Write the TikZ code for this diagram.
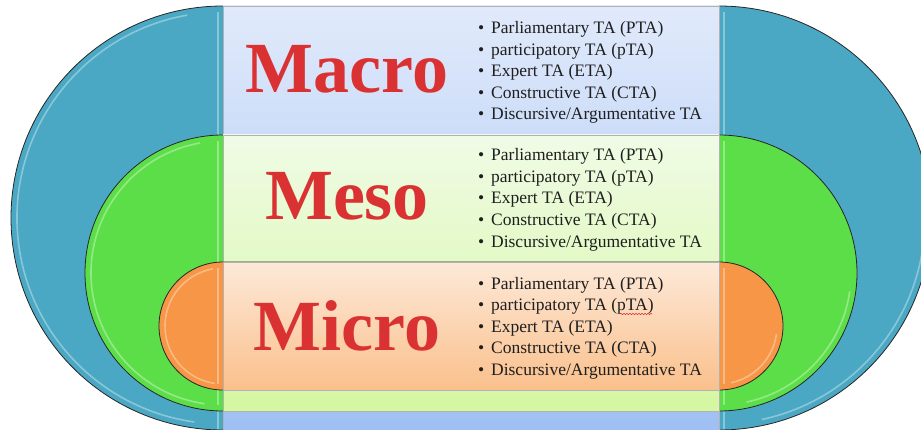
\documentclass[tikz,border=0pt]{standalone}
\usepackage{fontspec}
\setmainfont{Liberation Serif}
\usetikzlibrary{shapes.misc,decorations.pathmorphing}

\definecolor{ringblue}{RGB}{75,168,196}
\definecolor{ringgreen}{RGB}{92,222,72}
\definecolor{ringorange}{RGB}{247,150,70}
\definecolor{levelred}{RGB}{218,50,50}

\newcommand{\talist}{{Parliamentary TA (PTA)},{participatory TA (pTA)},{Expert TA (ETA)},{Constructive TA (CTA)},{Discursive/Argumentative TA}}

\begin{document}
\begin{tikzpicture}[x=1pt,y=1pt,
    ring/.style={rounded rectangle,draw=black!85,line width=0.8pt,inner sep=0pt},
    band/.style={rectangle,inner sep=0pt,minimum width=496pt,draw=black!30,line width=0.5pt},
    gloss/.style={white,opacity=0.35,line width=1.6pt},
    level/.style={font=\fontsize{72}{72}\selectfont\bfseries,text=levelred,anchor=base,inner sep=0pt},
    item/.style={font=\fontsize{17.5}{21}\selectfont,anchor=base west,inner sep=0pt,text=black!88}]

    \useasboundingbox (0,0) rectangle (921,429);

    % outer ring: macro
    \node[ring,fill=ringblue,minimum width=920pt,minimum height=424pt] (macroring) at (471,211) {};
    \draw[gloss] (223,211) ++(100:206) arc[start angle=100,end angle=262,radius=206];
    \draw[gloss] (719,211) ++(-78:206) arc[start angle=-78,end angle=-8,radius=206];
    \draw[gloss] (218,417) -- (218,0);
    \draw[gloss] (724,417) -- (724,0);
    \node[band,minimum height=428pt,top color={rgb,255:red,225;green,234;blue,251},bottom color={rgb,255:red,158;green,191;blue,243}] (macroband) at (471,209) {};

    % middle ring: meso
    \node[ring,fill=ringgreen,minimum width=772pt,minimum height=276pt] (mesoring) at (471,156) {};
    \draw[gloss] (223,156) ++(100:132) arc[start angle=100,end angle=262,radius=132];
    \draw[gloss] (719,156) ++(-78:132) arc[start angle=-78,end angle=-8,radius=132];
    \draw[gloss] (218,288) -- (218,24);
    \draw[gloss] (724,288) -- (724,24);
    \node[band,minimum height=276pt,top color={rgb,255:red,240;green,251;blue,230},bottom color={rgb,255:red,212;green,247;blue,160}] (mesoband) at (471,156) {};

    % inner ring: micro
    \node[ring,fill=ringorange,minimum width=624pt,minimum height=128pt] (microring) at (471,103) {};
    \draw[gloss] (223,103) ++(100:58) arc[start angle=100,end angle=262,radius=58];
    \draw[gloss] (719,103) ++(-78:58) arc[start angle=-78,end angle=-8,radius=58];
    \draw[gloss] (218,161) -- (218,45);
    \draw[gloss] (724,161) -- (724,45);
    \node[band,minimum height=128pt,top color={rgb,255:red,253;green,233;blue,216},bottom color={rgb,255:red,250;green,192;blue,140}] (microband) at (471,103) {};

    % level names
    \node[level] (macro) at (347,336) {Macro};
    \node[level] (meso) at (347,209) {Meso};
    \node[level] (micro) at (347,79) {Micro};

    % TA lists
    \foreach \lvl/\ybase in {macro/395,meso/268,micro/140}
        \foreach \t [count=\i] in \talist
            \node[item] (\lvl-\i) at (478,\ybase-21.5*\i+21.5) {\makebox[13pt][l]{\textbullet}\t};

    \draw[levelred,line width=0.5pt,decorate,decoration={snake,amplitude=0.7pt,segment length=3pt}] (620,115) -- (652,115);
\end{tikzpicture}
\end{document}
